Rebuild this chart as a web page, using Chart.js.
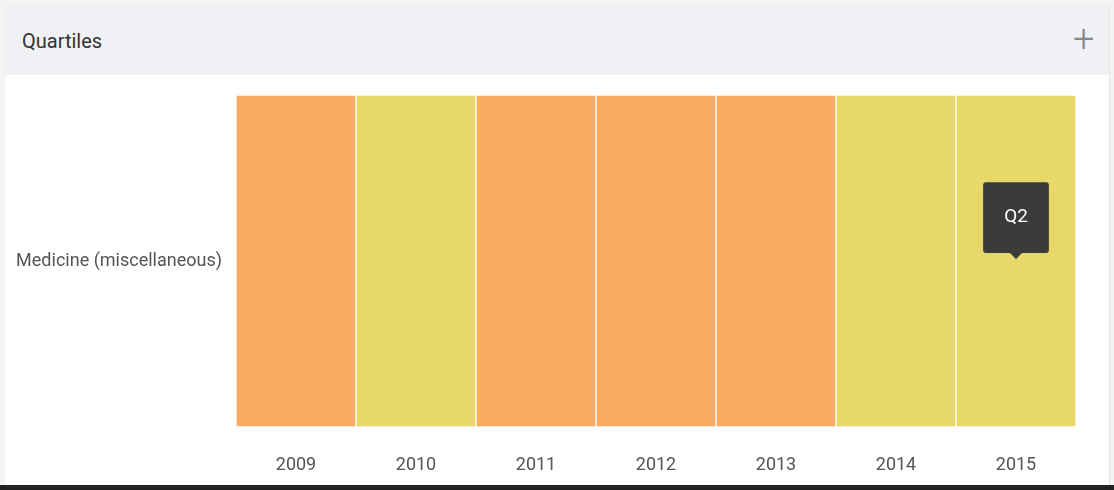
<!DOCTYPE html>
<html>
<head>
<meta charset="utf-8">
<script src="https://cdn.jsdelivr.net/npm/chart.js@4.4.0/dist/chart.umd.min.js"></script>
<style>
  html, body { margin: 0; padding: 0; background: #f4f4f5; width: 1114px; height: 490px; overflow: hidden; font-family: Roboto, sans-serif; }
  .card { position: absolute; left: 5px; top: 5px; width: 1104px; height: 480px; background: #fff; border-right: 1px solid #e3e3e3; }
  .head { position: absolute; left: 0; top: 0; width: 100%; height: 70px; background: #eff1f5; }
  .title { position: absolute; left: 17px; top: 24px; font-size: 20px; color: #333; }
  .plus { position: absolute; left: 1068px; top: 12px; font-size: 38px; font-weight: 300; color: #888; }
  .foot { position: absolute; left: 0; top: 485px; width: 1114px; height: 5px; background: #222; }
  #chartWrap { position: absolute; left: 0; top: 75px; width: 1114px; height: 410px; }
</style>
</head>
<body>
<div class="card">
  <div class="head"><span class="title">Quartiles</span><span class="plus">+</span></div>
</div>
<div id="chartWrap"><canvas id="quartileChart"></canvas></div>
<div class="foot"></div>
<script>
const subject = "Medicine (miscellaneous)";
const years = ["2009", "2010", "2011", "2012", "2013", "2014", "2015"];
const quartiles = ["Q3", "Q2", "Q3", "Q3", "Q3", "Q2", "Q2"];
const cellValues = [1, 1, 1, 1, 1, 1, 1];
const quartileColors = {
  Q1: "rgb(164 207 99)",
  Q2: "rgb(232 216 106)",
  Q3: "rgb(249 171 99)",
  Q4: "rgb(221 90 78)",
};

const colors = quartiles.map((q) => quartileColors[q]);

Chart.Tooltip.positioners.cellCenter = function (items) {
  if (!items.length) return false;
  const el = items[0].element;
  return { x: el.x, y: (el.y + el.base) / 2 - 2 };
};

const ctx = document.getElementById("quartileChart").getContext("2d");
const chart = new Chart(ctx, {
  type: "bar",
  data: {
    labels: years,
    datasets: [
      {
        label: subject,
        data: cellValues,
        backgroundColor: colors,
        hoverBackgroundColor: colors,
        borderColor: "#ffffff",
        hoverBorderColor: "#ffffff",
        borderWidth: 1,
        borderSkipped: false,
        barPercentage: 1,
        categoryPercentage: 1,
      },
    ],
  },
  options: {
    responsive: true,
    maintainAspectRatio: false,
    animation: false,
    events: [],
    layout: { padding: { top: 20, right: 38, left: 0, bottom: 0 } },
    scales: {
      x: {
        grid: { display: false, drawTicks: false },
        border: { display: false },
        ticks: { padding: 28, color: "#555", font: { family: "Roboto", size: 18 } },
        afterFit: (axis) => { axis.height = 58; axis.paddingLeft = 0; axis.paddingRight = 0; },
      },
      y: {
        display: false,
        min: 0,
        max: 1,
      },
      ySubject: {
        type: "category",
        labels: [subject],
        position: "left",
        offset: true,
        grid: { display: false, drawTicks: false },
        border: { display: false },
        ticks: { padding: 14, color: "#555", font: { family: "Roboto", size: 18 } },
        afterFit: (axis) => { axis.width = 236; axis.paddingTop = 0; axis.paddingBottom = 0; },
      },
    },
    plugins: {
      legend: { display: false },
      tooltip: {
        position: "cellCenter",
        yAlign: "bottom",
        xAlign: "center",
        displayColors: false,
        backgroundColor: "#3b3b3b",
        bodyColor: "#fff",
        bodyFont: { family: "Roboto", size: 19 },
        padding: { top: 24, bottom: 24, left: 21, right: 21 },
        caretSize: 6,
        caretPadding: 0,
        cornerRadius: 3,
        callbacks: {
          title: () => "",
          label: (context) => quartiles[context.dataIndex],
        },
      },
    },
  },
});

chart.tooltip.setActiveElements([{ datasetIndex: 0, index: 6 }], { x: 0, y: 0 });
chart.update();
</script>
</body>
</html>
